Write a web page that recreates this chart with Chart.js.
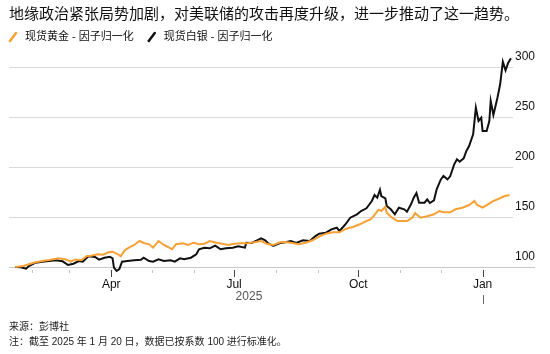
<!DOCTYPE html>
<html>
<head>
<meta charset="utf-8">
<script src="https://cdn.jsdelivr.net/npm/chart.js@4.4.1/dist/chart.umd.min.js"></script>
<style>
  html, body { margin: 0; padding: 0; background: #fff; }
  #wrap { width: 550px; height: 354px; }
</style>
</head>
<body>
<div id="wrap"><canvas id="myChart" width="550" height="354"></canvas></div>
<script>
// days counted from 2025-01-20 (= 100)
var goldDays = [0,6,10,15,20,25,32,37,41,44, 49,53,56,61,65,69,72,76,78,81, 84,88,92,95,99,102,106,110,113,116,
  119,124,128,132,136,140,144,149,153,158, 162,167,172,178,182,186, 191,196,200,205,210,215,220,225,230,235,
  240,245,250,255,260,263,265,269,271,274, 275,279,283,286,290,294,296,300,305,310,
  314,317,322,326,331,336,340,342,346,350, 354,357,362,366];
var goldValues = [100,101,102.7,104.7,106,107,108.7,107.7,105.3,107.3, 107,111,111.3,112.7,112.3,114.7,115.3,112.7,110.7,116.7,
  119.3,122,126,124,122.7,119.3,126,122,120,117.7, 122.7,123.7,122,124.3,122.7,123.3,126,124.3,123.3,122,
  123.3,123.7,123.7,125,126,123.3, 122,124.7,125,124,122.7,124.3,126.7,130.3,133.3,134.7,
  134.7,138.3,140,142.7,146,147.7,150.3,157.3,156,160.3, 154.3,149.3,146,146,146,149.3,154,149.3,150.7,152.7,
  156,154.7,154.7,157.7,159.3,162,166,162,159.3,162.7, 166,167.7,170.7,172];

var silverDays = [0,4,8,10,15,20,25,30,35,39, 43,47,50,54,59,62,66,70,72,73, 75,77,79,83,88,93,95,99,102,106,
  110,115,118,122,125,130,134,136,140,144, 148,152,156,161,165,170,171,175,179,182, 185,187,
  191,196,200,204,208,213,218,222, 225,230,234,238,240,244,248,253,256,260,
  264,266,268,270,271,274,275,278,281,284, 288,290,293,295,297,299,303,305,307,310,
  312,315,317,320,322,325,327,329,332,334, 336,339,341,343,345,346,349,351,352,354,
  357,359,361,363,365,367];
var silverValues = [100,99.7,98.3,101,104.3,105.3,106,106.7,105.7,102, 103.3,106,105.3,110.7,110,107.3,109.3,110.3,108.7,99.3,
  96,98,105.3,106,106.7,107.3,109.3,106,105.3,107.7, 106,106.7,105.3,108.7,107.7,109.3,112.7,117.7,119.3,118.7,
  121.3,117.7,118.7,119.3,120.7,119.3,124.3,124,126.7,128.7, 126.7,124,
  121,124,124.7,126,124,126.7,126,130.7, 133.3,134.3,137.7,139.3,136,142,149.3,152.7,156,158.7,
  166,172,169.3,177.3,171,168.7,161,157.7,152.7,159.3, 157.7,155.3,162.7,169.3,174,164.3,164.3,167.7,164,166.7,
  177.7,187.3,191,187.7,190.7,202.7,207.7,205.3,208.7,216, 221,232.7,259.3,246,249.3,236,236,246,266,252,
  269.3,282.7,305.3,296.7,304.3,308.7];

var monthTicks = [12, 40, 71, 101, 132, 162, 193, 224, 254, 285, 315, 346];
var monthLabels = ['', '', 'Apr', '', '', 'Jul', '', '', 'Oct', '', '', 'Jan'];
var yTicks = [100, 150, 200, 250, 300];
var yearLabel = '2025';
var yearMid = 173;
var yearEnd = 346;

var seriesNames = ['现货黄金 - 因子归一化', '现货白银 - 因子归一化'];
var seriesColors = ['#f7a035', '#111111'];
var titleText = '地缘政治紧张局势加剧，对美联储的攻击再度升级，进一步推动了这一趋势。';
var noteText = ['来源：彭博社', '注：截至 2025 年 1 月 20 日，数据已按系数 100 进行标准化。'];

var FONT = "'Liberation Sans', 'Noto Sans CJK SC', sans-serif";
Chart.defaults.font.family = FONT;

function toPoints(days, vals) {
  return days.map(function (d, i) { return { x: d, y: vals[i] }; });
}

// axis baseline, month ticks, year mark and the legend
var extras = {
  id: 'extras',
  beforeDatasetsDraw: function (chart) {
    var ctx = chart.ctx, a = chart.chartArea;
    var y0 = Math.round(chart.scales.y.getPixelForValue(100)) + 0.5;
    ctx.save();
    ctx.strokeStyle = '#c8c8c8';
    ctx.lineWidth = 1;
    ctx.beginPath();
    ctx.moveTo(a.left, y0);
    ctx.lineTo(a.right + 22, y0);
    ctx.stroke();
    ctx.restore();
  },
  afterDraw: function (chart) {
    var ctx = chart.ctx;
    var xs = chart.scales.x;
    var y0 = Math.round(chart.scales.y.getPixelForValue(100));
    ctx.save();
    ctx.lineWidth = 1;
    monthTicks.forEach(function (d, i) {
      var px = Math.round(xs.getPixelForValue(d)) + 0.5;
      var major = monthLabels[i] !== '';
      ctx.strokeStyle = major ? '#444' : '#c4c4c4';
      ctx.beginPath();
      ctx.moveTo(px, y0 + 3);
      ctx.lineTo(px, y0 + (major ? 10 : 6));
      ctx.stroke();
    });
    var yx = Math.round(xs.getPixelForValue(yearEnd)) + 0.5;
    ctx.strokeStyle = '#666';
    ctx.beginPath();
    ctx.moveTo(yx, 295);
    ctx.lineTo(yx, 304);
    ctx.stroke();

    // legend
    ctx.font = '11px ' + FONT;
    ctx.textBaseline = 'middle';
    var x = 9, ly = 37;
    seriesNames.forEach(function (name, i) {
      ctx.strokeStyle = seriesColors[i];
      ctx.lineWidth = 2.5;
      ctx.lineCap = 'round';
      ctx.beginPath();
      ctx.moveTo(x + 1, ly + 4);
      ctx.lineTo(x + 7, ly - 4);
      ctx.stroke();
      ctx.fillStyle = '#111';
      ctx.fillText(name, x + 16, ly);
      x = x + 16 + ctx.measureText(name).width + 14;
    });
    ctx.restore();
  }
};

var chart1 = new Chart(document.getElementById('myChart').getContext('2d'), {
  type: 'line',
  data: {
    datasets: [{
      label: seriesNames[0],
      data: toPoints(goldDays, goldValues),
      borderColor: seriesColors[0],
      borderWidth: 2,
      pointRadius: 0,
      tension: 0,
      clip: false
    }, {
      label: seriesNames[1],
      data: toPoints(silverDays, silverValues),
      borderColor: seriesColors[1],
      borderWidth: 2,
      pointRadius: 0,
      tension: 0,
      clip: false
    }]
  },
  options: {
    responsive: false,
    animation: false,
    events: [],
    layout: { padding: { left: 9, right: 13, top: 0, bottom: 0 } },
    scales: {
      x: {
        type: 'linear',
        min: -4.7,
        max: 368.5,
        afterBuildTicks: function (s) { s.ticks = monthTicks.map(function (v) { return { value: v }; }); },
        afterFit: function (s) { s.height = 20; },
        grid: { display: false, drawTicks: false },
        border: { display: false },
        ticks: {
          autoSkip: false, maxRotation: 0, padding: 6,
          color: '#111', font: { size: 12 },
          callback: function (v, i) { return monthLabels[i]; }
        }
      },
      x2: {
        type: 'linear',
        position: 'bottom',
        weight: 1,
        min: -4.7,
        max: 368.5,
        afterBuildTicks: function (s) { s.ticks = [{ value: yearMid }]; },
        afterFit: function (s) { s.height = 28.5; },
        grid: { display: false, drawTicks: false },
        border: { display: false },
        ticks: {
          autoSkip: false, maxRotation: 0, padding: -1.2,
          color: '#555', font: { size: 12 },
          callback: function () { return yearLabel; }
        }
      },
      y: {
        position: 'right',
        min: 96,
        max: 312,
        afterBuildTicks: function (s) { s.ticks = yTicks.map(function (v) { return { value: v }; }); },
        grid: {
          drawTicks: false,
          color: function (c) { return c.tick && c.tick.value === 100 ? 'rgba(0,0,0,0)' : '#d9d9d9'; }
        },
        border: { display: false },
        ticks: { padding: 2, labelOffset: -10, color: '#111', font: { size: 12 } }
      }
    },
    plugins: {
      legend: { display: false },
      tooltip: { enabled: false },
      title: {
        display: true,
        text: titleText,
        align: 'start',
        color: '#111',
        font: { size: 15, weight: 'normal', lineHeight: 1.2 },
        padding: { top: 5.5, bottom: 31.5 }
      },
      subtitle: {
        display: true,
        position: 'bottom',
        text: noteText,
        align: 'start',
        color: '#222',
        font: { size: 10, lineHeight: '15px' },
        padding: { top: 0, bottom: 4.5 }
      }
    }
  },
  plugins: [extras]
});
</script>
</body>
</html>
